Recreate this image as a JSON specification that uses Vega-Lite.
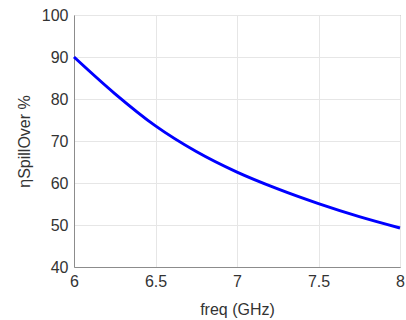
{
  "$schema": "https://vega.github.io/schema/vega-lite/v6.json",
  "autosize": {"type": "none"},
  "width": 326,
  "height": 252,
  "padding": {"left": 74, "top": 15, "right": 6, "bottom": 53},
  "background": "white",
  "config": {
    "view": {"stroke": "#8c8c8c", "strokeWidth": 1},
    "font": "Liberation Sans",
    "axis": {
      "labelFont": "Liberation Sans",
      "titleFont": "Liberation Sans",
      "labelFontSize": 16,
      "titleFontSize": 16,
      "labelColor": "#333333",
      "titleColor": "#333333",
      "titleFontWeight": "normal",
      "domainColor": "#8c8c8c",
      "gridColor": "#e6e6e6",
      "gridWidth": 1,
      "ticks": false
    }
  },
  "data": {
    "values": [
      {"freq": 6.0, "eta": 90.0},
      {"freq": 6.25, "eta": 81.3},
      {"freq": 6.5, "eta": 73.6},
      {"freq": 6.75, "eta": 67.5},
      {"freq": 7.0, "eta": 62.6},
      {"freq": 7.25, "eta": 58.6},
      {"freq": 7.5, "eta": 55.1},
      {"freq": 7.75, "eta": 52.0},
      {"freq": 8.0, "eta": 49.3}
    ]
  },
  "mark": {"type": "line", "color": "#0000ff", "strokeWidth": 3, "interpolate": "monotone"},
  "encoding": {
    "x": {
      "field": "freq", "type": "quantitative",
      "scale": {"domain": [6, 8], "nice": false, "zero": false},
      "axis": {"values": [6, 6.5, 7, 7.5, 8], "format": "~g", "title": "freq (GHz)", "labelPadding": 6, "titlePadding": 12, "labelFlush": false}
    },
    "y": {
      "field": "eta", "type": "quantitative",
      "scale": {"domain": [40, 100], "nice": false, "zero": false},
      "axis": {"values": [40, 50, 60, 70, 80, 90, 100], "title": "ηSpillOver %", "labelPadding": 6, "titleX": -50, "titleY": 126, "titleAlign": "center", "titleBaseline": "middle", "titleAngle": -90, "labelFlush": false}
    }
  }
}
